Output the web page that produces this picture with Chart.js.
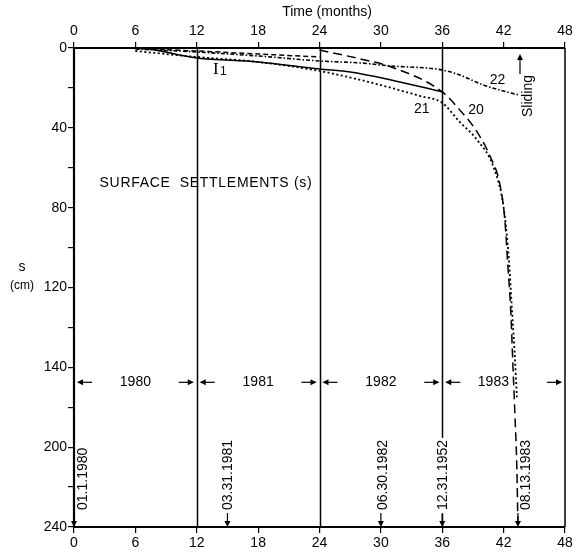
<!DOCTYPE html>
<html>
<head>
<meta charset="utf-8">
<script src="https://cdn.jsdelivr.net/npm/chart.js@4/dist/chart.umd.min.js"></script>
<style>
  html, body { margin: 0; padding: 0; background: #fff; }
  #settle { display: block; }
</style>
</head>
<body>
<canvas id="settle" width="577" height="554"></canvas>
<script>
// --- settlement records (months from 01.1.1980, settlement in cm) ---
const curveI1Months = [0, 6, 12, 18, 24, 27, 31, 36];
const curveI1Settle = [0, 0, 5, 7, 10.5, 12, 16, 22];

const curve20Months = [24, 28, 31, 36, 37.7, 39.4, 40.7, 41.6, 42.1, 42.4, 42.7, 42.9, 43.1, 43.3, 43.4];
const curve20Settle = [1, 5.5, 9.5, 22, 31, 42, 54.5, 67.5, 85, 108, 132, 158, 183, 212, 240];

const curve21Months = [6, 12, 18, 24, 28, 33.8, 36, 37.7, 39.4, 41, 42, 42.5, 42.8, 43.1, 43.3];
const curve21Settle = [1.5, 4.5, 7, 11.5, 16, 24, 27.5, 37, 46, 59.5, 80, 105, 130, 155, 175];

const curve22Months = [6, 12, 18, 24, 28, 31, 36, 37.7, 40, 42.3, 43.5];
const curve22Settle = [0.5, 2, 4, 6.5, 7.5, 9, 11, 13.5, 18.5, 22, 23.5];

// upper dashed trace in the first two years
const curve20aMonths = [6, 12, 18, 24];
const curve20aSettle = [0.3, 1.5, 3, 4.5];

// --- axis labels ---
const xTickStep = 6;
const yTickValues = [0, 40, 80, 120, 160, 200, 240];
const yTickText = ['0', '40', '80', '120', '140', '200', '240'];
const yearLines = [12, 24, 36];

// --- annotations ---
const yearNames = ['1980', '1981', '1982', '1983'];
const yearCenters = [6, 18, 30, 41];
const yearBounds = [0, 12, 24, 36, 48];
const yearRowS = 167.5;

const dateTexts = ['01.1.1980', '03.31.1981', '06.30.1982', '12.31.1952', '08.13.1983'];
const dateMonths = [0, 15, 30, 36, 43.4];
const dateShift = [9, 1, 2, 1, 8];
const dateClear = [false, false, false, true, false];

const curveNames = ['20', '21', '22'];
const curveNameMonths = [39.3, 34, 41.4];
const curveNameSettle = [31, 30.5, 16];

const FONT = "'Liberation Sans', Arial, sans-serif";
Chart.defaults.font.family = FONT;
Chart.defaults.color = '#000';

function pts(xs, ys) {
  return xs.map((x, i) => ({ x: x, y: ys[i] }));
}

function arrowHead(ctx, x, y, dir) {
  // dir: 'left' | 'right' | 'up' | 'down', tip at (x, y)
  ctx.beginPath();
  if (dir === 'left') { ctx.moveTo(x, y); ctx.lineTo(x + 6, y - 3); ctx.lineTo(x + 6, y + 3); }
  if (dir === 'right') { ctx.moveTo(x, y); ctx.lineTo(x - 6, y - 3); ctx.lineTo(x - 6, y + 3); }
  if (dir === 'up') { ctx.moveTo(x, y); ctx.lineTo(x - 3, y + 6); ctx.lineTo(x + 3, y + 6); }
  if (dir === 'down') { ctx.moveTo(x, y); ctx.lineTo(x - 3, y - 6); ctx.lineTo(x + 3, y - 6); }
  ctx.closePath();
  ctx.fill();
}

const overlay = {
  id: 'overlay',
  beforeDatasetsDraw(chart) {
    const { ctx, chartArea: a, scales } = chart;
    ctx.save();
    ctx.strokeStyle = '#000';
    // year separators
    ctx.lineWidth = 1.5;
    yearLines.forEach(m => {
      const px = Math.round(scales.x.getPixelForValue(m)) + 0.5;
      ctx.beginPath(); ctx.moveTo(px, a.top); ctx.lineTo(px, a.bottom); ctx.stroke();
    });
    // frame
    ctx.lineWidth = 2.2;
    ctx.beginPath();
    ctx.moveTo(a.left, a.top - 1); ctx.lineTo(a.left, a.bottom + 1);
    ctx.moveTo(a.left, a.top); ctx.lineTo(a.right, a.top);
    ctx.moveTo(a.left, a.bottom); ctx.lineTo(a.right, a.bottom);
    ctx.stroke();
    ctx.lineWidth = 1.5;
    ctx.beginPath(); ctx.moveTo(a.right, a.top); ctx.lineTo(a.right, a.bottom); ctx.stroke();
    ctx.restore();
  },
  afterDatasetsDraw(chart) {
    const { ctx, chartArea: a, scales } = chart;
    const X = v => scales.x.getPixelForValue(v);
    const Y = v => scales.y.getPixelForValue(v);
    ctx.save();
    ctx.fillStyle = '#000';
    ctx.strokeStyle = '#000';
    ctx.lineWidth = 1.2;

    // axis titles
    ctx.font = '14px ' + FONT;
    ctx.textAlign = 'center';
    ctx.textBaseline = 'middle';
    ctx.fillText('Time (months)', 327, 12);
    ctx.fillText('s', 22, 267);
    ctx.font = '12px ' + FONT;
    ctx.fillText('(cm)', 22, 286);

    ctx.font = '14px ' + FONT;
    ctx.textAlign = 'left';
    ctx.letterSpacing = '0.7px';
    ctx.fillText('SURFACE  SETTLEMENTS (s)', X(2.5), Y(67.5));
    ctx.letterSpacing = '0px';

    // year row
    const yr = Y(yearRowS);
    ctx.textAlign = 'center';
    yearNames.forEach((n, i) => ctx.fillText(n, X(yearCenters[i]), yr));
    yearBounds.forEach(b => {
      const px = X(b);
      if (b > 0) {
        ctx.beginPath(); ctx.moveTo(px - 18, yr); ctx.lineTo(px - 4, yr); ctx.stroke();
        arrowHead(ctx, px - 3, yr, 'right');
      }
      if (b < 48) {
        ctx.beginPath(); ctx.moveTo(px + 4, yr); ctx.lineTo(px + 18, yr); ctx.stroke();
        arrowHead(ctx, px + 3, yr, 'left');
      }
    });

    // event dates along the bottom
    dateTexts.forEach((t, i) => {
      const px = X(dateMonths[i]);
      const w = ctx.measureText(t).width;
      if (dateClear[i]) {
        ctx.fillStyle = '#fff';
        ctx.fillRect(px - 8, a.bottom - 19 - w, 16, w + 6);
        ctx.fillStyle = '#000';
      }
      ctx.beginPath(); ctx.moveTo(px, a.bottom - 14); ctx.lineTo(px, a.bottom - 4); ctx.stroke();
      arrowHead(ctx, px, a.bottom, 'down');
      ctx.save();
      ctx.translate(px + dateShift[i], a.bottom - 17);
      ctx.rotate(-Math.PI / 2);
      ctx.textAlign = 'left';
      ctx.textBaseline = 'middle';
      ctx.fillText(t, 0, 0);
      ctx.restore();
    });

    // curve numbers
    ctx.textAlign = 'center';
    curveNames.forEach((n, i) => ctx.fillText(n, X(curveNameMonths[i]), Y(curveNameSettle[i])));

    // inclinometer tag
    ctx.font = '17px "Liberation Serif", serif';
    ctx.textAlign = 'left';
    ctx.fillText('I', 213, 70);
    ctx.font = '12px ' + FONT;
    ctx.fillText('1', 220, 72);

    // sliding marker
    const sx = X(43.6);
    ctx.beginPath(); ctx.moveTo(sx, 74); ctx.lineTo(sx, 58); ctx.stroke();
    arrowHead(ctx, sx, 54, 'up');
    ctx.save();
    ctx.font = '14px ' + FONT;
    ctx.translate(sx + 8, 96);
    ctx.rotate(-Math.PI / 2);
    ctx.textAlign = 'center';
    ctx.textBaseline = 'middle';
    ctx.fillText('Sliding', 0, 0);
    ctx.restore();

    ctx.restore();
  }
};

const lineBase = {
  showLine: true,
  pointRadius: 0,
  borderColor: '#000',
  borderWidth: 1.5,
  fill: false,
  cubicInterpolationMode: 'monotone'
};

const xTicks = { stepSize: xTickStep, font: { size: 14 }, padding: 2, maxRotation: 0, autoSkip: false };
const tickGrid = { drawOnChartArea: false, color: '#000', lineWidth: 1.2, tickLength: 6 };

new Chart(document.getElementById('settle'), {
  type: 'scatter',
  data: {
    datasets: [
      { ...lineBase, label: 'I1', data: pts(curveI1Months, curveI1Settle) },
      { ...lineBase, label: '20', data: pts(curve20Months, curve20Settle), borderDash: [9, 5] },
      { ...lineBase, label: '20a', data: pts(curve20aMonths, curve20aSettle), borderDash: [5, 3] },
      { ...lineBase, label: '21', data: pts(curve21Months, curve21Settle), borderDash: [2, 2.5], borderWidth: 1.8 },
      { ...lineBase, label: '22', data: pts(curve22Months, curve22Settle), borderDash: [4, 2, 1.5, 2], borderWidth: 1.6 }
    ]
  },
  options: {
    responsive: false,
    animation: false,
    layout: { padding: { left: 0, right: 12, top: 0, bottom: 0 } },
    plugins: { legend: { display: false }, tooltip: { enabled: false } },
    scales: {
      x: {
        type: 'linear', position: 'bottom', min: 0, max: 48,
        ticks: xTicks, grid: tickGrid, border: { display: false },
        afterFit(s) { s.height = 27; }
      },
      xTop: {
        type: 'linear', position: 'top', min: 0, max: 48,
        ticks: xTicks, grid: tickGrid, border: { display: false },
        afterFit(s) { s.height = 48; }
      },
      y: {
        type: 'linear', reverse: true, min: 0, max: 240,
        ticks: {
          stepSize: 20, font: { size: 14 }, padding: 1, autoSkip: false,
          callback(v) {
            const i = yTickValues.indexOf(v);
            return i >= 0 ? yTickText[i] : '';
          }
        },
        grid: { drawOnChartArea: false, color: '#000', lineWidth: 1.2, tickLength: 6 },
        border: { display: false },
        afterFit(s) { s.width = 74; }
      }
    }
  },
  plugins: [overlay]
});
</script>
</body>
</html>
